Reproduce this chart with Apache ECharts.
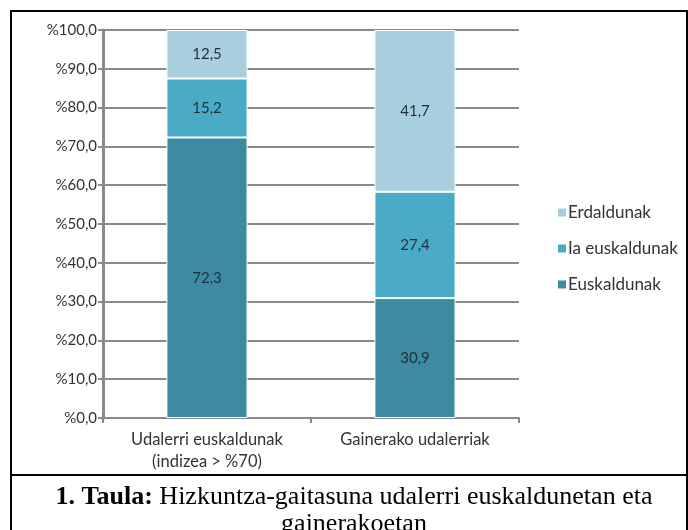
<!DOCTYPE html>
<html>
<head>
<meta charset="utf-8">
<script src="https://cdn.jsdelivr.net/npm/echarts@6/dist/echarts.min.js"></script>
<style>
  html, body { margin: 0; padding: 0; background: #fff; }
  #chart_container { width: 688px; height: 530px; }
</style>
</head>
<body>
<div id="chart_container"></div>
<script>
var categories = ['Udalerri euskaldunak\n(indizea > %70)', 'Gainerako udalerriak'];
var euskaldunak = [72.3, 30.9];
var iaEuskaldunak = [15.2, 27.4];
var erdaldunak = [12.5, 41.7];
var seriesNames = ['Euskaldunak', 'Ia euskaldunak', 'Erdaldunak'];
var seriesColors = ['#3d8ba2', '#4aabc6', '#a9cfdf'];

var dom = document.getElementById("chart_container");
var myChart = echarts.init(dom);

function fmt(v) {
    return v.toFixed(1).replace('.', ',');
}

var font = 'Lato, "Open Sans", sans-serif';
var serif = '"Liberation Serif", serif';

function makeSeries(name, data, color) {
    return {
        name: name,
        type: 'bar',
        stack: 'total',
        barWidth: '39%',
        data: data,
        itemStyle: {
            color: color,
            borderColor: '#ffffff',
            borderWidth: 1
        },
        label: {
            show: true,
            position: 'inside',
            color: '#1f2f3a',
            fontFamily: font,
            fontSize: 15,
            formatter: function (p) { return fmt(p.value); }
        }
    };
}

var option = {
    animation: false,
    textStyle: { fontFamily: font },
    legend: {
        orient: 'vertical',
        left: 551,
        top: 199,
        itemWidth: 10,
        itemHeight: 10,
        itemGap: 19,
        icon: 'rect',
        data: ['Erdaldunak', 'Ia euskaldunak', 'Euskaldunak'],
        textStyle: {
            color: '#333',
            fontFamily: font,
            fontSize: 17,
            padding: [0, 0, 0, -4]
        }
    },
    grid: {
        left: 103,
        right: 169,
        top: 30,
        bottom: 112
    },
    xAxis: {
        type: 'category',
        data: categories,
        axisLine: { lineStyle: { color: '#8a8a8a', width: 2 } },
        axisTick: { show: true, length: 5, lineStyle: { color: '#8a8a8a', width: 2 } },
        axisLabel: {
            color: '#333',
            fontFamily: font,
            fontSize: 16.5,
            lineHeight: 22,
            margin: 11
        }
    },
    yAxis: {
        type: 'value',
        min: 0,
        max: 100,
        interval: 10,
        axisLine: { show: true, lineStyle: { color: '#8a8a8a', width: 3 } },
        axisTick: { show: true, length: 5, lineStyle: { color: '#8a8a8a', width: 2 } },
        splitLine: { lineStyle: { color: '#8a8a8a', width: 2 } },
        axisLabel: {
            color: '#333',
            fontFamily: font,
            fontSize: 15,
            margin: 6,
            formatter: function (v) { return '%' + fmt(v); }
        }
    },
    series: [
        makeSeries(seriesNames[0], euskaldunak, seriesColors[0]),
        makeSeries(seriesNames[1], iaEuskaldunak, seriesColors[1]),
        makeSeries(seriesNames[2], erdaldunak, seriesColors[2])
    ],
    graphic: [
        { type: 'line', shape: { x1: 10, y1: 11, x2: 688, y2: 11 }, style: { stroke: '#000', lineWidth: 2 } },
        { type: 'line', shape: { x1: 11, y1: 10, x2: 11, y2: 530 }, style: { stroke: '#000', lineWidth: 2 } },
        { type: 'line', shape: { x1: 10, y1: 475, x2: 688, y2: 475 }, style: { stroke: '#000', lineWidth: 2 } },
        { type: 'line', shape: { x1: 687, y1: 10, x2: 687, y2: 530 }, style: { stroke: '#000', lineWidth: 2 } },
        {
            type: 'text',
            x: 354,
            y: 497,
            style: {
                text: '{b|1. Taula:} Hizkuntza-gaitasuna udalerri euskaldunetan eta',
                textAlign: 'center',
                textVerticalAlign: 'middle',
                fill: '#000',
                font: '26px ' + serif,
                rich: {
                    b: { fontWeight: 'bold', fontSize: 26, fontFamily: serif, fill: '#000' }
                }
            }
        },
        {
            type: 'text',
            x: 354,
            y: 524,
            style: {
                text: 'gainerakoetan',
                textAlign: 'center',
                textVerticalAlign: 'middle',
                fill: '#000',
                font: '26px ' + serif
            }
        }
    ]
};

if (option && typeof option === "object") {
    myChart.setOption(option, true);
}
</script>
</body>
</html>
